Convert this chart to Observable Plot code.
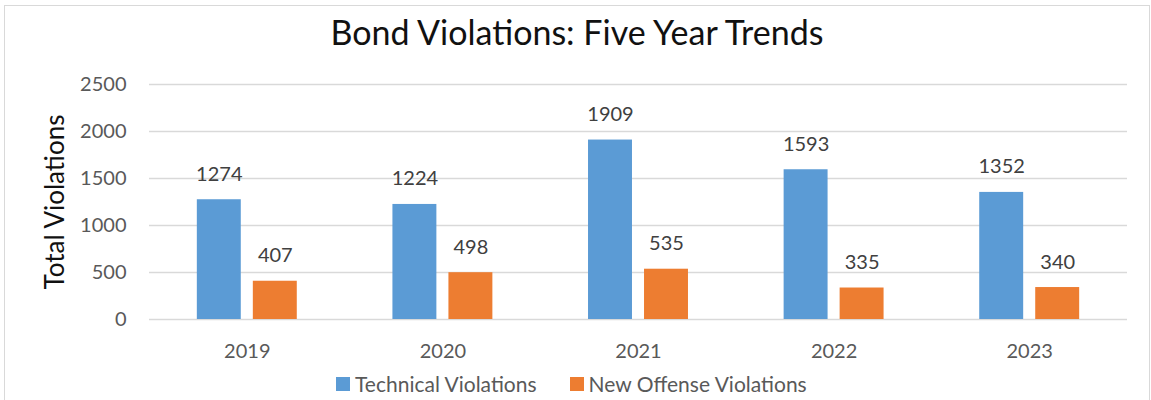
<!DOCTYPE html>
<html>
<head>
<meta charset="utf-8">
<script src="https://cdn.jsdelivr.net/npm/d3@7"></script>
<script src="https://cdn.jsdelivr.net/npm/@observablehq/plot@0.6"></script>
<style>
  html, body { margin: 0; padding: 0; background: #fff; }
  body { width: 1151px; height: 400px; overflow: hidden; position: relative; font-family: Lato, "Open Sans", sans-serif; }
  #frame { position: absolute; left: 4px; top: 5px; width: 1146px; height: 400px; border: 1px solid #d9d9d9; box-sizing: border-box; }
  #title { position: absolute; left: 4px; width: 1146px; top: 11px; text-align: center; font-size: 34px; color: #111; line-height: 42px; }
  #chart { position: absolute; left: 0; top: 60px; }
  #legend { position: absolute; left: 336px; top: 372px; display: flex; align-items: center; font-size: 21px; color: #595959; line-height: 24px; }
  .sw { width: 14px; height: 14px; display: inline-block; margin-right: 5px; }
  .item { display: flex; align-items: center; margin-right: 33px; }
</style>
</head>
<body>
<div id="frame"></div>
<div id="title">Bond Violations: Five Year Trends</div>
<div id="chart"></div>
<div id="legend"></div>
<script>
const years = ["2019", "2020", "2021", "2022", "2023"];
const technicalViolations = [1274, 1224, 1909, 1593, 1352];
const newOffenseViolations = [407, 498, 535, 335, 340];
const seriesNames = ["Technical Violations", "New Offense Violations"];
const seriesColors = ["#5B9BD5", "#ED7D31"];
const yTicks = [0, 500, 1000, 1500, 2000, 2500];

const tech = years.map((year, i) => ({year, value: technicalViolations[i], series: seriesNames[0]}));
const newOff = years.map((year, i) => ({year, value: newOffenseViolations[i], series: seriesNames[1]}));

const plot = Plot.plot({
  width: 1151,
  height: 310,
  marginLeft: 149,
  marginRight: 24,
  marginTop: 24,
  marginBottom: 51,
  style: {fontFamily: "Lato, 'Open Sans', sans-serif", fontSize: "20px", color: "#595959", background: "transparent"},
  x: {type: "band", domain: years, paddingInner: 0.489, paddingOuter: 0.2445, round: false},
  y: {domain: [0, 2500]},
  marks: [
    Plot.gridY(yTicks, {stroke: "#d9d9d9", strokeOpacity: 1, strokeWidth: 1.3}),
    Plot.axisY(yTicks, {tickSize: 0, tickPadding: 23, fontSize: 20, fill: "#595959", tickFormat: d => String(d),
      label: "Total Violations", labelAnchor: "center", labelOffset: 104, labelArrow: "none"}),
    Plot.axisX({tickSize: 0, tickPadding: 24, fontSize: 20, fill: "#595959", label: null}),
    Plot.barY(tech, {x: "year", y: "value", fill: seriesColors[0], insetRight: 56}),
    Plot.barY(newOff, {x: "year", y: "value", fill: seriesColors[1], insetLeft: 56}),
    Plot.text(tech, {x: "year", y: "value", text: d => String(d.value), dx: -28, dy: -19, lineAnchor: "bottom", fontSize: 20, fill: "#404040"}),
    Plot.text(newOff, {x: "year", y: "value", text: d => String(d.value), dx: 28, dy: -19, lineAnchor: "bottom", fontSize: 20, fill: "#404040"})
  ]
});
plot.querySelectorAll("[aria-label='y-axis label']").forEach(g => {
  g.setAttribute("font-size", "26"); g.setAttribute("fill", "#111");
  g.querySelectorAll("text").forEach(t => { t.setAttribute("font-size", "26"); t.setAttribute("fill", "#111"); });
});
document.getElementById("chart").appendChild(plot);

const legend = document.getElementById("legend");
seriesNames.forEach((name, i) => {
  const item = document.createElement("div");
  item.className = "item";
  const sw = document.createElement("span");
  sw.className = "sw";
  sw.style.background = seriesColors[i];
  item.appendChild(sw);
  item.appendChild(document.createTextNode(name));
  legend.appendChild(item);
});
</script>
</body>
</html>
